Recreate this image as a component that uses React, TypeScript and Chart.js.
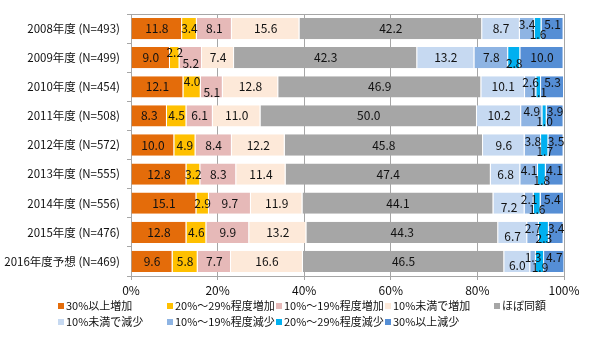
import React, { useEffect, useRef } from "react";
import { Chart, registerables } from "chart.js";

Chart.register(...registerables);

const categories = [
  "2008年度 (N=493)",
  "2009年度 (N=499)",
  "2010年度 (N=454)",
  "2011年度 (N=508)",
  "2012年度 (N=572)",
  "2013年度 (N=555)",
  "2014年度 (N=556)",
  "2015年度 (N=476)",
  "2016年度予想 (N=469)",
];

const seriesNames = [
  "30%以上増加",
  "20%～29%程度増加",
  "10%～19%程度増加",
  "10%未満で増加",
  "ほぼ同額",
  "10%未満で減少",
  "10%～19%程度減少",
  "20%～29%程度減少",
  "30%以上減少",
];

const up30 = [11.8, 9.0, 12.1, 8.3, 10.0, 12.8, 15.1, 12.8, 9.6];
const up20 = [3.4, 2.2, 4.0, 4.5, 4.9, 3.2, 2.9, 4.6, 5.8];
const up10 = [8.1, 5.2, 5.1, 6.1, 8.4, 8.3, 9.7, 9.9, 7.7];
const up0 = [15.6, 7.4, 12.8, 11.0, 12.2, 11.4, 11.9, 13.2, 16.6];
const same = [42.2, 42.3, 46.9, 50.0, 45.8, 47.4, 44.1, 44.3, 46.5];
const down0 = [8.7, 13.2, 10.1, 10.2, 9.6, 6.8, 7.2, 6.7, 6.0];
const down10 = [3.4, 7.8, 2.6, 4.9, 3.8, 4.1, 2.1, 2.7, 1.3];
const down20 = [1.6, 2.8, 1.1, 1.0, 1.7, 1.8, 1.6, 2.3, 1.9];
const down30 = [5.1, 10.0, 5.3, 3.9, 3.5, 4.1, 5.4, 3.4, 4.7];

const xTicks = [0, 20, 40, 60, 80, 100];

const seriesValues = [up30, up20, up10, up0, same, down0, down10, down20, down30];
const seriesColors = [
  "#E46C0A",
  "#FFC000",
  "#E6B9B8",
  "#FDE9D9",
  "#A6A6A6",
  "#C6D9F1",
  "#8EB4E3",
  "#00B0F0",
  "#558ED5",
];

const FONT = "'Liberation Sans Narrow', 'Noto Sans CJK JP', sans-serif";

// label vertical nudge rule (avoid overlapping labels on thin segments)
function labelOffset(ds: number, idx: number): number {
  const v = (arr: number[]) => arr[idx];
  if (ds === 1 && v(up10) < 5.5) return -5;
  if (ds === 2 && v(up10) < 5.5) return 6;
  if (ds === 5 && v(down10) < 3 && v(down0) < 8) return 4;
  if (ds === 6 && v(down10) < 6) return -4;
  if (ds === 7) return 6;
  if (ds === 8 && v(down30) < 6) return -4;
  return 0;
}

const labelPlugin = {
  id: "segLabels",
  afterDatasetsDraw(chart: any) {
    const ctx = chart.ctx;
    ctx.save();
    ctx.font = `12px ${FONT}`;
    ctx.fillStyle = "#111";
    ctx.textAlign = "center";
    ctx.textBaseline = "middle";
    chart.data.datasets.forEach((dset: any, di: number) => {
      const meta = chart.getDatasetMeta(di);
      meta.data.forEach((el: any, i: number) => {
        const val = dset.data[i];
        const x = (el.x + el.base) / 2;
        const y = el.y + labelOffset(di, i);
        ctx.fillText(val.toFixed(1), x, y);
      });
    });
    ctx.restore();
  },
};

const framePlugin = {
  id: "frameTop",
  beforeDatasetsDraw(chart: any) {
    const { ctx, chartArea } = chart;
    ctx.save();
    ctx.strokeStyle = "#A6A6A6";
    ctx.lineWidth = 1;
    ctx.beginPath();
    ctx.moveTo(chartArea.left, chartArea.top + 0.5);
    ctx.lineTo(chartArea.right, chartArea.top + 0.5);
    ctx.stroke();
    ctx.restore();
  },
};

const legendPlugin = {
  id: "gridLegend",
  afterDraw(chart: any) {
    const ctx = chart.ctx;
    ctx.save();
    ctx.font = `11px ${FONT}`;
    ctx.textBaseline = "middle";
    ctx.textAlign = "left";
    const colW = 109;
    const startX = 58;
    const rowY = [306, 322];
    seriesNames.forEach((name, i) => {
      const row = i < 5 ? 0 : 1;
      const col = i < 5 ? i : i - 5;
      const x = startX + col * colW;
      const y = rowY[row];
      ctx.fillStyle = seriesColors[i];
      ctx.fillRect(x, y - 3, 6, 6);
      ctx.fillStyle = "#111";
      ctx.fillText(name, x + 8, y);
    });
    ctx.restore();
  },
};

export default function App() {
  const ref = useRef<HTMLCanvasElement | null>(null);

  useEffect(() => {
    document.body.style.margin = "0";
    if (!ref.current) return;
    const chart = new Chart(ref.current, {
      type: "bar",
      data: {
        labels: categories,
        datasets: seriesNames.map((name, i) => ({
          label: name,
          data: seriesValues[i],
          backgroundColor: seriesColors[i],
          borderColor: "rgba(255,255,255,0.9)",
          borderWidth: { left: 0, right: 1, top: 0, bottom: 0 },
          borderSkipped: false,
          barPercentage: 0.73,
          categoryPercentage: 1,
        })),
      },
      options: {
        indexAxis: "y",
        responsive: false,
        animation: false,
        layout: { padding: { top: 14, right: 36, left: 0, bottom: 0 } },
        plugins: {
          legend: { display: false },
          tooltip: { enabled: false },
        },
        scales: {
          x: {
            stacked: true,
            min: 0,
            max: 100,
            afterBuildTicks: (scale: any) => {
              scale.ticks = xTicks.map((v) => ({ value: v }));
            },
            ticks: {
              callback: (v: any) => v + "%",
              color: "#111",
              font: { family: FONT, size: 12 },
              padding: 3,
              maxRotation: 0,
            },
            grid: {
              color: "#A6A6A6",
              drawTicks: true,
              tickLength: 4,
              tickColor: "#A6A6A6",
            },
            border: { color: "#A6A6A6" },
            afterFit: (scale: any) => {
              scale.height = 69;
            },
          },
          y: {
            stacked: true,
            ticks: {
              color: "#111",
              font: { family: FONT, size: 11.5 },
              padding: 7,
            },
            grid: {
              offset: true,
              drawOnChartArea: false,
              drawTicks: true,
              tickLength: 4,
              tickColor: "#A6A6A6",
            },
            border: { color: "#A6A6A6" },
            afterFit: (scale: any) => {
              scale.width = 131;
            },
          },
        },
      },
      plugins: [framePlugin, labelPlugin, legendPlugin],
    } as any);
    return () => chart.destroy();
  }, []);

  return (
    <div style={{ width: 600, height: 345, background: "#fff" }}>
      <canvas ref={ref} width={600} height={345} />
    </div>
  );
}
